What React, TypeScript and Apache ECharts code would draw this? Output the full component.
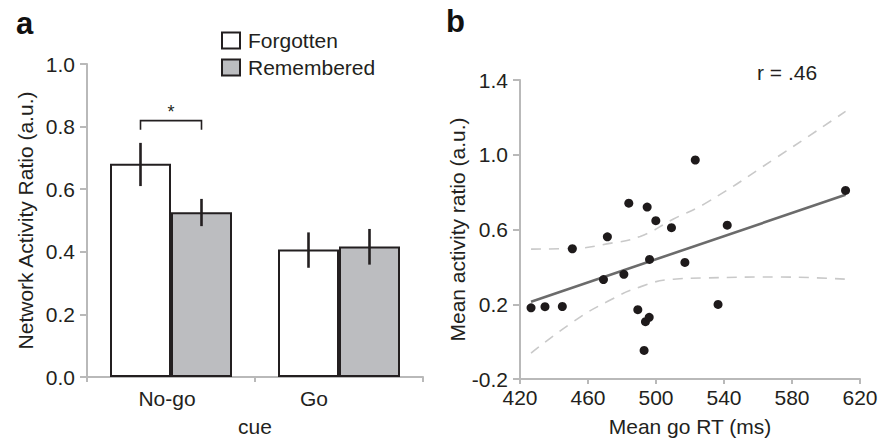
import React, { useEffect, useRef } from "react";
import * as echarts from "echarts";

// ---------- Panel a data ----------
const cues = ["No-go", "Go"];
const forgotten = [0.681, 0.407];
const remembered = [0.526, 0.417];
const forgottenErr = [
  [0.61, 0.748],
  [0.349, 0.462],
];
const rememberedErr = [
  [0.482, 0.569],
  [0.359, 0.473],
];
const barYTicks = { min: 0, max: 1, interval: 0.2 };
// significance bracket: category index, foot value, top value
const bracket = [[0, 0.79, 0.819]];

// ---------- Panel b data ----------
const goRT = [
  426.5, 434.7, 444.9, 450.8, 469.1, 471.4, 481.1, 484.0, 489.3, 494.8, 493.0,
  493.8, 496.0, 496.2, 499.9, 509.1, 517.0, 523.1, 536.5, 541.9, 611.5,
];
const activity = [
  0.181, 0.187, 0.188, 0.497, 0.332, 0.561, 0.36, 0.741, 0.171, 0.72, -0.047,
  0.107, 0.13, 0.44, 0.647, 0.61, 0.424, 0.972, 0.199, 0.623, 0.809,
];
const fitLine = [
  [426.5, 0.213],
  [611.5, 0.786],
];
const ciUpper = [
  [426.5, 0.495],
  [453.4, 0.5],
  [471.1, 0.523],
  [490.7, 0.563],
  [510.3, 0.656],
  [530.0, 0.745],
  [569.2, 0.975],
  [611.5, 1.232],
];
const ciLower = [
  [426.5, -0.062],
  [451.4, 0.107],
  [471.1, 0.213],
  [490.7, 0.293],
  [510.3, 0.334],
  [530.0, 0.341],
  [569.2, 0.346],
  [611.5, 0.334],
];
const rtTicks = { min: 420, max: 620, interval: 40 };
const actTicks = { min: -0.2, max: 1.4, interval: 0.4 };

const FONT = "Liberation Sans, Arial, Helvetica, sans-serif";
const FS = 21;
const AXIS_COLOR = "#b9b9b9";
const INK = "#231f20";
const BAR_W = 61;

export default function App() {
  const ref = useRef<HTMLDivElement>(null);
  useEffect(() => {
    if (!ref.current) return;
    const chart = echarts.init(ref.current, null, { renderer: "svg" });
    const axisCommon = {
      axisLine: { show: true, onZero: false, lineStyle: { color: AXIS_COLOR, width: 2 } },
      axisTick: { show: true, inside: false, length: 7, lineStyle: { color: AXIS_COLOR, width: 2 } },
      splitLine: { show: false },
      nameTextStyle: { color: INK, fontSize: FS, fontFamily: FONT },
    };
    const labelCommon = { color: INK, fontSize: FS, fontFamily: FONT };

    const errData = [
      ...forgottenErr.map((e, i) => [i, e[0], e[1], -1]),
      ...rememberedErr.map((e, i) => [i, e[0], e[1], 1]),
    ];

    const option: any = {
      animation: false,
      backgroundColor: "#ffffff",
      textStyle: { fontFamily: FONT },
      grid: [
        { left: 87, top: 64, width: 336, height: 318 },
        { left: 520, top: 80, width: 340, height: 301 },
      ],
      legend: {
        data: ["Forgotten", "Remembered"],
        orient: "vertical",
        left: 221,
        top: 30,
        padding: 0,
        icon: "rect",
        itemWidth: 18,
        itemHeight: 16,
        itemGap: 6,
        textStyle: { color: INK, fontSize: FS, fontFamily: FONT, padding: [0, 0, 0, 3] },
        selectedMode: false,
      },
      xAxis: [
        {
          ...axisCommon,
          gridIndex: 0,
          type: "category",
          data: cues,
          boundaryGap: true,
          name: "cue",
          nameLocation: "middle",
          nameGap: 39,
          axisTick: { ...axisCommon.axisTick, length: 5, alignWithLabel: false },
          axisLabel: {
            ...labelCommon,
            margin: 11,
            formatter: (v: string) => (v === "Go" ? `{g|${v}}` : `{n|${v}}`),
            rich: {
              n: { ...labelCommon, padding: [0, 8, 0, 0] },
              g: { ...labelCommon, padding: [0, 50, 0, 0] },
            },
          },
        },
        {
          ...axisCommon,
          gridIndex: 1,
          type: "value",
          min: rtTicks.min,
          max: rtTicks.max,
          interval: rtTicks.interval,
          name: "Mean go RT (ms)",
          nameLocation: "middle",
          nameGap: 37,
          axisTick: { ...axisCommon.axisTick, length: 5 },
          axisLabel: { ...labelCommon, margin: 8 },
        },
      ],
      yAxis: [
        {
          ...axisCommon,
          gridIndex: 0,
          type: "value",
          min: barYTicks.min,
          max: barYTicks.max,
          interval: barYTicks.interval,
          name: "Network Activity Ratio (a.u.)",
          nameLocation: "middle",
          nameGap: 51,
          axisLabel: { ...labelCommon, margin: 12, formatter: (v: number) => v.toFixed(1) },
        },
        {
          ...axisCommon,
          gridIndex: 1,
          type: "value",
          min: actTicks.min,
          max: actTicks.max,
          interval: actTicks.interval,
          name: "Mean activity ratio (a.u.)",
          nameLocation: "middle",
          nameGap: 52,
          axisLabel: { ...labelCommon, margin: 12, formatter: (v: number) => v.toFixed(1) },
        },
      ],
      series: [
        {
          name: "Forgotten",
          type: "bar",
          xAxisIndex: 0,
          yAxisIndex: 0,
          data: forgotten,
          barWidth: BAR_W,
          barGap: "0%",
          itemStyle: { color: "#ffffff", borderColor: INK, borderWidth: 2 },
        },
        {
          name: "Remembered",
          type: "bar",
          xAxisIndex: 0,
          yAxisIndex: 0,
          data: remembered,
          barWidth: BAR_W,
          barGap: "0%",
          itemStyle: { color: "#bcbdc0", borderColor: INK, borderWidth: 2 },
        },
        {
          name: "err",
          type: "custom",
          xAxisIndex: 0,
          yAxisIndex: 0,
          data: errData,
          encode: { x: 0, y: [1, 2] },
          z: 5,
          renderItem: (params: any, api: any) => {
            const cat = api.value(0);
            const side = api.value(3);
            const p1 = api.coord([cat, api.value(1)]);
            const p2 = api.coord([cat, api.value(2)]);
            const x = p1[0] + (side * BAR_W) / 2;
            return {
              type: "line",
              shape: { x1: x, y1: p1[1], x2: x, y2: p2[1] },
              style: { stroke: INK, lineWidth: 2.6 },
            };
          },
        },
        {
          name: "sig",
          type: "custom",
          xAxisIndex: 0,
          yAxisIndex: 0,
          data: bracket,
          encode: { x: 0, y: [1, 2] },
          z: 5,
          renderItem: (params: any, api: any) => {
            const cat = api.value(0);
            const foot = api.coord([cat, api.value(1)]);
            const top = api.coord([cat, api.value(2)]);
            const xl = foot[0] - BAR_W / 2;
            const xr = foot[0] + BAR_W / 2;
            return {
              type: "group",
              children: [
                {
                  type: "polyline",
                  shape: {
                    points: [
                      [xl, foot[1]],
                      [xl, top[1]],
                      [xr, top[1]],
                      [xr, foot[1]],
                    ],
                  },
                  style: { stroke: INK, lineWidth: 1.6, fill: "none" },
                },
                {
                  type: "text",
                  x: foot[0],
                  y: top[1] - 18,
                  style: {
                    text: "*",
                    fill: INK,
                    fontSize: 18,
                    fontFamily: FONT,
                    textAlign: "center",
                    textVerticalAlign: "top",
                  },
                },
              ],
            };
          },
        },
        {
          name: "ciUpper",
          type: "line",
          xAxisIndex: 1,
          yAxisIndex: 1,
          data: ciUpper,
          smooth: true,
          showSymbol: false,
          symbol: "none",
          lineStyle: { color: "#c9c9c9", width: 1.6, type: [10, 8] },
          z: 1,
        },
        {
          name: "ciLower",
          type: "line",
          xAxisIndex: 1,
          yAxisIndex: 1,
          data: ciLower,
          smooth: true,
          showSymbol: false,
          symbol: "none",
          lineStyle: { color: "#c9c9c9", width: 1.6, type: [10, 8] },
          z: 1,
        },
        {
          name: "fit",
          type: "line",
          xAxisIndex: 1,
          yAxisIndex: 1,
          data: fitLine,
          showSymbol: false,
          symbol: "none",
          lineStyle: { color: "#6b6b6b", width: 2.6 },
          z: 2,
        },
        {
          name: "points",
          type: "scatter",
          xAxisIndex: 1,
          yAxisIndex: 1,
          data: goRT.map((x, i) => [x, activity[i]]),
          symbolSize: 9,
          itemStyle: { color: "#1e1a1b", opacity: 1 },
          z: 3,
        },
      ],
      graphic: [
        {
          type: "text",
          left: 16,
          top: 8,
          style: { text: "a", fontSize: 31, fontWeight: "bold", fill: "#111", fontFamily: FONT },
        },
        {
          type: "text",
          left: 446,
          top: 6,
          style: { text: "b", fontSize: 31, fontWeight: "bold", fill: "#111", fontFamily: FONT },
        },
        {
          type: "text",
          left: 757,
          top: 62,
          style: { text: "r = .46", fontSize: FS, fill: INK, fontFamily: FONT },
        },
      ],
    };
    chart.setOption(option);
    return () => chart.dispose();
  }, []);
  return (
    <div
      ref={ref}
      style={{ position: "fixed", left: 0, top: 0, width: 896, height: 442, background: "#fff" }}
    />
  );
}
